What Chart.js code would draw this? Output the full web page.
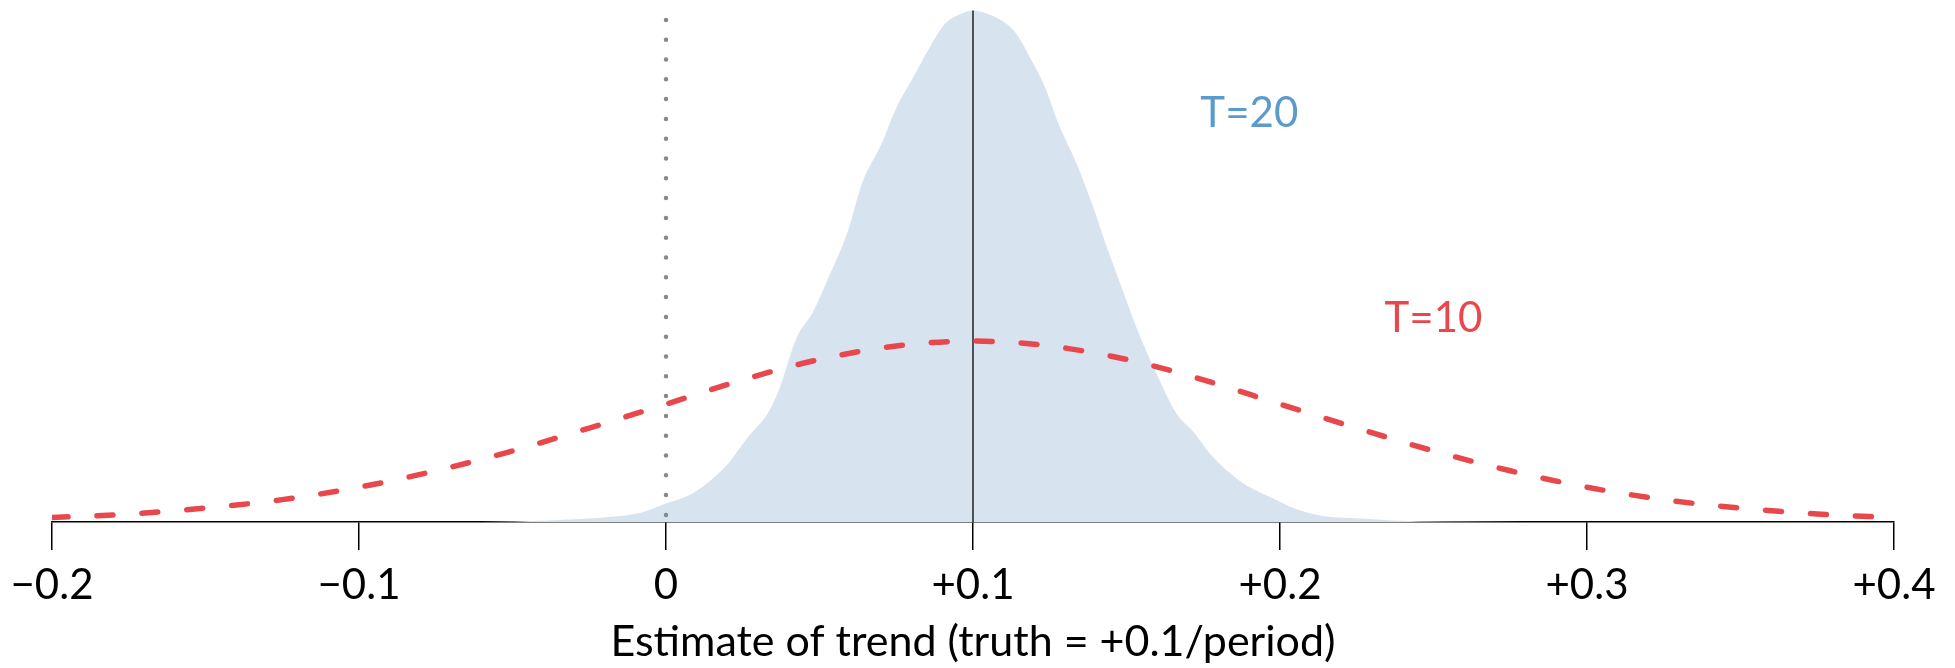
<!DOCTYPE html>
<html>
<head>
<meta charset="utf-8">
<script src="https://cdn.jsdelivr.net/npm/chart.js@4"></script>
<style>
  html, body { margin: 0; padding: 0; background: #fff; }
  canvas { display: block; }
</style>
</head>
<body>
<canvas id="trendChart" width="1955" height="668"></canvas>
<script>
// T=20 : simulated estimates (smoothed density)
var blueX = [-0.06, -0.039, -0.017, -0.0085, 0, 0.009, 0.019, 0.027, 0.033, 0.037, 0.0425, 0.048, 0.053, 0.059,
  0.064, 0.07, 0.075, 0.0805, 0.086, 0.091, 0.096, 0.1, 0.104, 0.11, 0.114, 0.1185, 0.123, 0.128, 0.134, 0.139,
  0.1435, 0.148, 0.152, 0.1565, 0.161, 0.166, 0.172, 0.177, 0.183, 0.188, 0.193, 0.199, 0.204, 0.21, 0.215,
  0.226, 0.237, 0.253, 0.28]
var blueY = [0, 0.03, 0.11, 0.18, 0.37, 0.59, 1.09, 1.73, 2.17, 2.69, 3.7, 4.24, 4.93, 5.81,
  6.84, 7.58, 8.33, 8.94, 9.56, 10.03, 10.22, 10.29, 10.24, 10.06, 9.83, 9.35, 8.81, 7.99, 7.17, 6.36,
  5.54, 4.79, 4.11, 3.43, 2.82, 2.21, 1.8, 1.39, 1.02, 0.78, 0.61, 0.44, 0.29, 0.17, 0.11,
  0.07, 0.03, 0.01, 0]

// T=10 : theoretical curve (dashed red)
var redX = [-0.2, -0.175, -0.15, -0.125, -0.1, -0.075, -0.05, -0.025, 0, 0.025, 0.05, 0.075, 0.1,
  0.125, 0.15, 0.175, 0.2, 0.225, 0.25, 0.275, 0.3, 0.325, 0.35, 0.375, 0.4]
var redY = [0.09, 0.16, 0.28, 0.45, 0.7, 1.03, 1.43, 1.89, 2.37, 2.86, 3.27, 3.54, 3.64,
  3.54, 3.27, 2.86, 2.37, 1.89, 1.43, 1.03, 0.7, 0.45, 0.28, 0.16, 0.09]

// reference lines: zero and the true trend
var zeroLine = [10.1, 0]
var truthLine = [0, 10.29]

var labelText = ['T=20', 'T=10']
var labelX = [0.19, 0.25]
var labelY = [8.22, 4.1]

var RED = '#e8474c'
var BLUE_TXT = '#5b9bcb'
var FONT = 'Lato'

function fmtTick(v) {
  if (Math.abs(v) < 1e-9) return '0'
  return (v > 0 ? '+' : '\u2212') + Math.abs(v).toFixed(1)
}

function pts(xs, ys) {
  return xs.map(function (x, i) { return { x: x, y: ys[i] } })
}

var textLabels = {
  id: 'textLabels',
  afterDatasetsDraw: function (chart) {
    var ctx = chart.ctx
    var x = chart.scales.x, y = chart.scales.y
    ctx.save()
    ctx.font = '42px ' + FONT
    ctx.textAlign = 'center'
    ctx.textBaseline = 'middle'
    labelText.forEach(function (t, i) {
      ctx.fillStyle = i === 0 ? BLUE_TXT : RED
      ctx.fillText(t, x.getPixelForValue(labelX[i]), y.getPixelForValue(labelY[i]))
    })
    ctx.restore()
  }
}

var chart = new Chart(document.querySelector('#trendChart'), {
  type: 'line',
  data: {
    datasets: [{
      label: 'T=10',
      data: pts(redX, redY),
      borderColor: RED,
      borderWidth: 5.5,
      borderDash: [16, 29],
      borderCapStyle: 'round',
      cubicInterpolationMode: 'monotone',
      pointRadius: 0,
      fill: false,
      order: 0
    }, {
      label: 'zero',
      data: pts([0, 0], zeroLine),
      borderColor: '#888888',
      borderWidth: 4.5,
      borderDash: [0, 19.8],
      borderCapStyle: 'round',
      pointRadius: 0,
      fill: false,
      order: 1
    }, {
      label: 'truth',
      data: pts([0.1, 0.1], truthLine),
      borderColor: '#222222',
      borderWidth: 1.5,
      pointRadius: 0,
      fill: false,
      order: 2
    }, {
      label: 'T=20',
      data: pts(blueX, blueY),
      borderWidth: 0,
      borderColor: 'rgba(0,0,0,0)',
      backgroundColor: '#d7e4f0',
      cubicInterpolationMode: 'monotone',
      pointRadius: 0,
      fill: 'origin',
      order: 3
    }]
  },
  options: {
    responsive: false,
    devicePixelRatio: 1,
    animation: false,
    layout: { padding: { left: 52, right: 61, top: 0, bottom: 0 } },
    plugins: { legend: { display: false }, tooltip: { enabled: false } },
    scales: {
      x: {
        type: 'linear',
        min: -0.2,
        max: 0.4,
        afterFit: function (s) { s.height = 146 },
        ticks: {
          stepSize: 0.1,
          autoSkip: false,
          maxRotation: 0,
          padding: 10,
          color: '#000',
          font: { family: FONT, size: 42 },
          callback: fmtTick
        },
        grid: { drawOnChartArea: false, drawTicks: true, tickLength: 28, color: '#000', lineWidth: 1.5 },
        border: { display: true, color: '#000', width: 1.5 },
        title: {
          display: true,
          text: 'Estimate of trend (truth = +0.1/period)',
          color: '#000',
          font: { family: FONT, size: 43 },
          padding: { top: 0, bottom: 0 }
        }
      },
      y: { display: false, min: 0, max: 10.5 }
    }
  },
  plugins: [textLabels]
})
</script>
</body>
</html>
